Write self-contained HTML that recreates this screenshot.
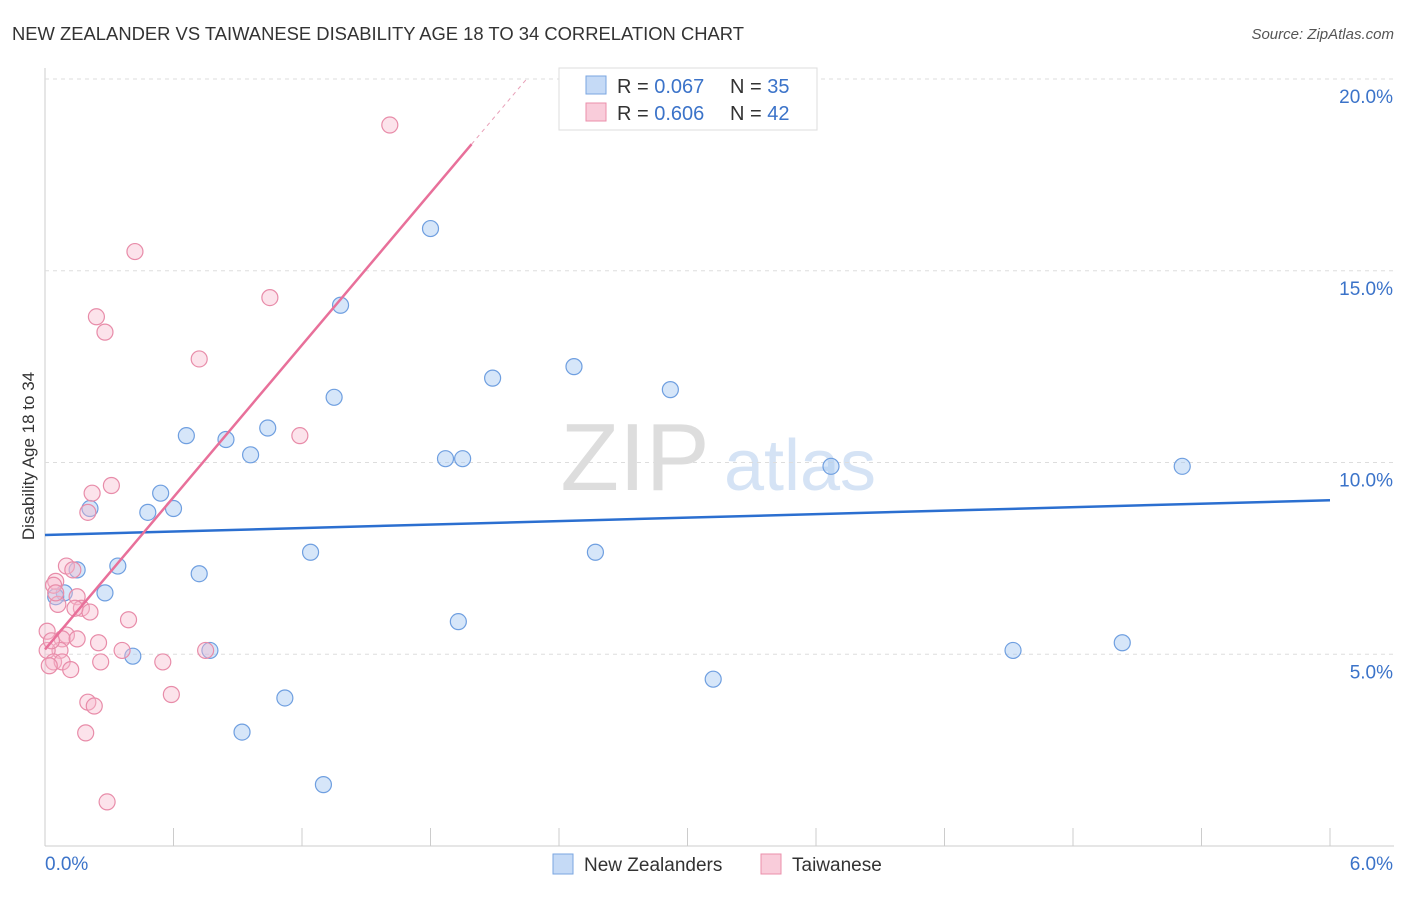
<!DOCTYPE html>
<html><head><meta charset="utf-8"><style>
body{margin:0;background:#fff;font-family:"Liberation Sans",sans-serif;}
svg text{font-family:"Liberation Sans",sans-serif;}
</style></head><body>
<svg id="c" width="1406" height="892">
<text x="12" y="40" font-size="18" fill="#333" textLength="732" lengthAdjust="spacingAndGlyphs">NEW ZEALANDER VS TAIWANESE DISABILITY AGE 18 TO 34 CORRELATION CHART</text>
<text x="1394" y="39" font-size="15" fill="#555" font-style="italic" text-anchor="end">Source: ZipAtlas.com</text>
<text x="34" y="456" font-size="17" fill="#333" text-anchor="middle" transform="rotate(-90 34 456)">Disability Age 18 to 34</text>
<text x="635" y="490" font-size="96" fill="#ddd" font-family="Liberation Serif" text-anchor="middle">ZIP</text>
<text x="800" y="490" font-size="72" fill="#d5e3f5" text-anchor="middle">atlas</text>
<g id="grid"></g><g id="pts"></g><g id="trend"></g>
<g>
<rect x="559" y="68" width="258" height="62" fill="#fff" stroke="#ddd"/>
<rect x="586" y="76" width="20" height="18" fill="#c5daf6" stroke="#7aa6e0"/>
<rect x="586" y="103" width="20" height="18" fill="#f9ccda" stroke="#eb8fab"/>
<text x="617" y="93" font-size="20" fill="#333">R = <tspan fill="#3b73c9">0.067</tspan></text>
<text x="730" y="93" font-size="20" fill="#333">N = <tspan fill="#3b73c9">35</tspan></text>
<text x="617" y="120" font-size="20" fill="#333">R = <tspan fill="#3b73c9">0.606</tspan></text>
<text x="730" y="120" font-size="20" fill="#333">N = <tspan fill="#3b73c9">42</tspan></text>
</g>
<g>
<rect x="553" y="854" width="20" height="20" fill="#c5daf6" stroke="#7aa6e0"/>
<text x="584" y="871" font-size="19" fill="#333">New Zealanders</text>
<rect x="761" y="854" width="20" height="20" fill="#f9ccda" stroke="#eb8fab"/>
<text x="792" y="871" font-size="19" fill="#333">Taiwanese</text>
</g>
</svg>
<script>
const blueX=[1.80,1.38,2.47,2.09,2.92,1.35,0.66,0.845,1.04,0.96,1.87,1.95,3.67,5.31,0.54,0.48,0.60,0.21,1.24,2.57,0.34,0.15,0.72,0.28,0.09,0.05,1.93,0.77,0.41,4.52,5.03,3.12,1.12,0.92,1.30];
const blueY=[16.1,14.1,12.5,12.2,11.9,11.7,10.7,10.6,10.9,10.2,10.1,10.1,9.9,9.9,9.2,8.7,8.8,8.8,7.66,7.66,7.3,7.2,7.1,6.6,6.6,6.5,5.85,5.1,4.95,5.1,5.3,4.35,3.86,2.97,1.6];
const pinkX=[1.61,0.42,1.05,0.24,0.28,0.72,1.19,0.31,0.22,0.20,0.10,0.13,0.05,0.04,0.15,0.06,0.17,0.21,0.14,0.39,0.01,0.10,0.08,0.15,0.25,0.07,0.01,0.36,0.75,0.04,0.08,0.26,0.55,0.12,0.02,0.59,0.20,0.23,0.19,0.29,0.03,0.05];
const pinkY=[18.8,15.5,14.3,13.8,13.4,12.7,10.7,9.4,9.2,8.7,7.3,7.2,6.9,6.8,6.5,6.3,6.2,6.1,6.2,5.9,5.6,5.5,5.4,5.4,5.3,5.1,5.1,5.1,5.1,4.8,4.8,4.8,4.8,4.6,4.7,3.95,3.75,3.65,2.95,1.15,5.35,6.6];
const yTicks=[5,10,15,20], yLabels=["5.0%","10.0%","15.0%","20.0%"];
const NS="http://www.w3.org/2000/svg";
const X=v=>45+v/6*1285, Y=v=>846-v*38.35;
function mk(t,a,p){const e=document.createElementNS(NS,t);for(const k in a)e.setAttribute(k,a[k]);document.getElementById(p).appendChild(e);return e;}
const g='grid';
let e=mk('line',{x1:45,y1:846,x2:1394,y2:846,stroke:'#ccc'},g);

e=mk('line',{x1:45,y1:68,x2:45,y2:846,stroke:'#ccc'},g);

for(let i=0;i<=10;i++){e=mk('line',{x1:X(i*0.6),y1:828,x2:X(i*0.6),y2:846,stroke:'#ccc'},g);
}
yTicks.forEach((v,i)=>{e=mk('line',{x1:45,y1:Y(v),x2:1394,y2:Y(v),stroke:'#ddd','stroke-dasharray':'4,4'},g);

e=mk('text',{x:1393,y:Y(v)+24,'font-size':19,fill:'#3b73c9','text-anchor':'end'},g);e.textContent=yLabels[i];
});
e=mk('text',{x:45,y:870,'font-size':19,fill:'#3b73c9'},g);e.textContent='0.0%';

e=mk('text',{x:1393,y:870,'font-size':19,fill:'#3b73c9','text-anchor':'end'},g);e.textContent='6.0%';

blueX.forEach((x,i)=>{e=mk('circle',{cx:X(x),cy:Y(blueY[i]),r:8,fill:'rgba(165,199,242,0.45)',stroke:'#6f9fe0','stroke-width':1.2},'pts');
});
pinkX.forEach((x,i)=>{e=mk('circle',{cx:X(x),cy:Y(pinkY[i]),r:8,fill:'rgba(247,185,205,0.4)',stroke:'#e88ca9','stroke-width':1.2},'pts');
});
function reg(xs,ys){const n=xs.length;let mx=0,my=0;for(let i=0;i<n;i++){mx+=xs[i];my+=ys[i];}mx/=n;my/=n;let sxy=0,sxx=0;for(let i=0;i<n;i++){sxy+=(xs[i]-mx)*(ys[i]-my);sxx+=(xs[i]-mx)**2;}const b=sxy/sxx;return [my-b*mx,b];}
let [a,b]=reg(blueX,blueY);
e=mk('line',{x1:X(0),y1:Y(a),x2:X(6),y2:Y(a+b*6),stroke:'#2b6fd0','stroke-width':2.5},'trend');

[a,b]=reg(pinkX,pinkY);
const xe=Math.min(6,(18.3-a)/b), xd=Math.min(6,(20.0-a)/b);
e=mk('line',{x1:X(0),y1:Y(a),x2:X(xe),y2:Y(a+b*xe),stroke:'#e8709a','stroke-width':2.5},'trend');

e=mk('line',{x1:X(xe),y1:Y(a+b*xe),x2:X(xd),y2:Y(a+b*xd),stroke:'#e8a0b8','stroke-width':1,'stroke-dasharray':'4,4'},'trend');

</script>
</body></html>
